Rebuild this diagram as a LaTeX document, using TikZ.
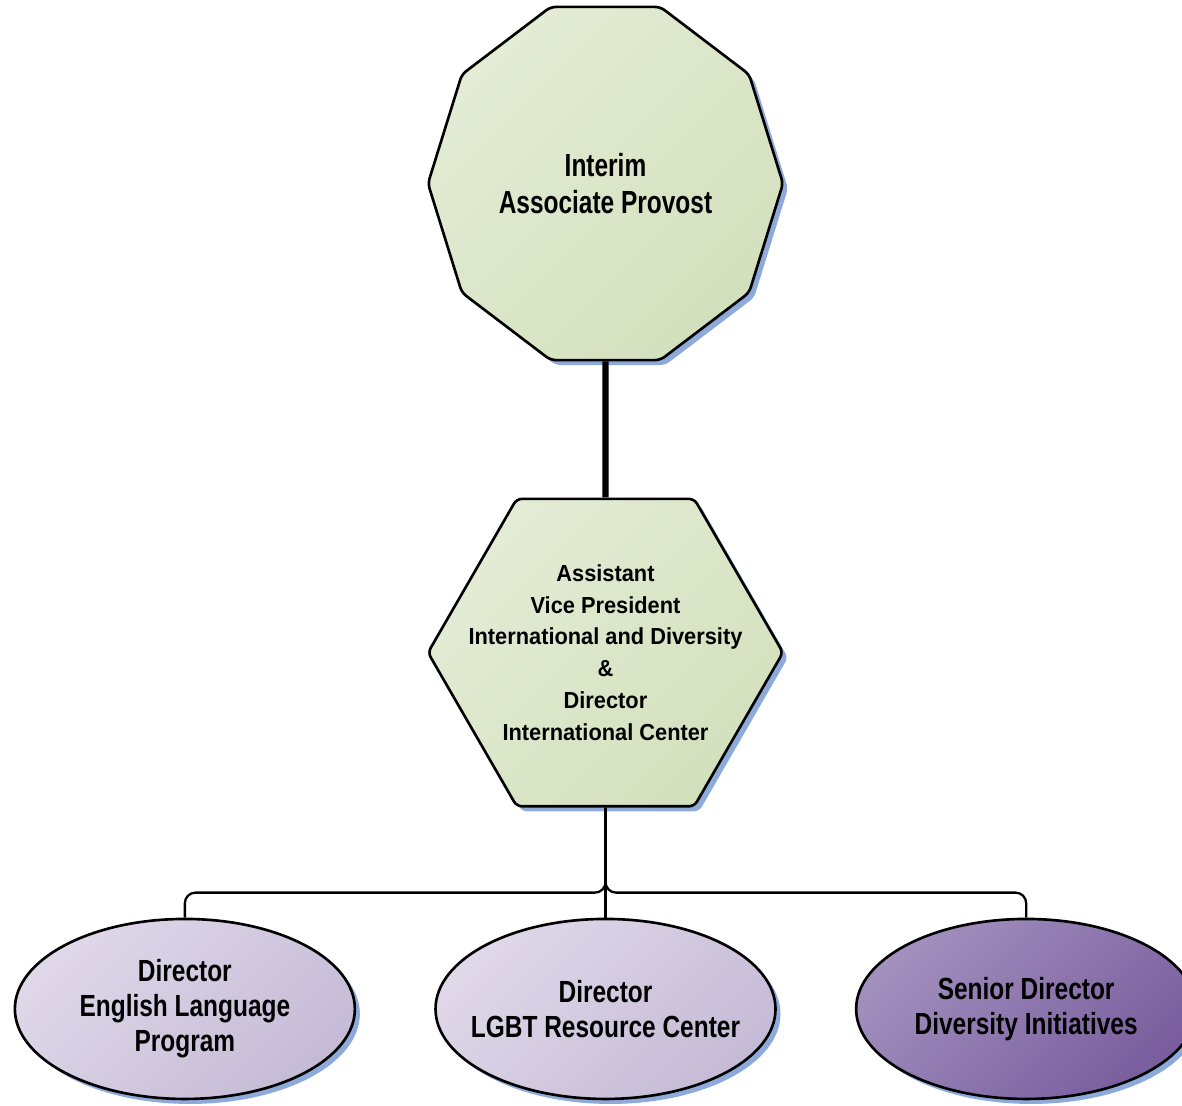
\documentclass[tikz,border=0pt]{standalone}
\usepackage{fontspec}
\newfontfamily\orgfont{Liberation Sans}[FakeStretch=0.8]
\newfontfamily\hexfont{Liberation Sans}[FakeStretch=0.94]
\usepackage{tikz}
\definecolor{ga}{RGB}{228, 236, 214}
\definecolor{gb}{RGB}{211, 224, 188}
\definecolor{la}{RGB}{223, 216, 233}
\definecolor{lb}{RGB}{197, 187, 214}
\definecolor{pa}{RGB}{162, 144, 190}
\definecolor{pb}{RGB}{121, 93, 157}
\definecolor{sh}{RGB}{142, 170, 219}
\usetikzlibrary{positioning,shapes.geometric,shadows}

\begin{document}
\begin{tikzpicture}[
  orgbox/.style={draw, line width=1.5pt, inner sep=0, align=center,
    drop shadow={fill=sh, opacity=1, shadow xshift=0.1cm, shadow yshift=-0.1cm}},
  greenfill/.style={top color=ga, bottom color=gb, shading angle=45},
  bigtext/.style={font=\orgfont\bfseries\fontsize{17.4}{19.8}\selectfont},
  hextext/.style={font=\hexfont\bfseries\fontsize{13.2}{18.1}\selectfont},
  ovalbox/.style={orgbox, bigtext, ellipse, inner xsep=-0.8cm, minimum width=6.8cm, minimum height=3.6cm},
  topline/.style={line width=3.5pt},
  busline/.style={line width=1.3pt, rounded corners=6pt}
]
\clip (-12.11,3.67) rectangle (11.53,-18.43);

\node[orgbox, greenfill, bigtext, regular polygon, regular polygon sides=10, minimum size=7.1cm, rounded corners=3pt, yscale=1.046, transform shape] (P) at (0,0) {Interim\\Associate Provost};
\node[below =2.72cm of P, orgbox, greenfill, hextext, regular polygon, regular polygon sides=6, inner sep=-1.4cm, minimum size=7.1cm, rounded corners=3pt] (V) {Assistant\\Vice President\\International and Diversity\\\&\\Director\\International Center};
\node[below =2.2cm of V, ovalbox, top color=la, bottom color=lb, shading angle=45] (L) {Director\\LGBT Resource Center};
\node[left  =1.56cm of L, ovalbox, top color=la, bottom color=lb, shading angle=45] (E) {Director\\English Language\\Program};
\node[right =1.56cm of L, ovalbox, top color=pa, bottom color=pb, shading angle=45] (S) {Senior Director\\Diversity Initiatives};
\coordinate[above =0.5cm of L.north] (bus);

\draw[topline] (P) -- (V);
\draw[busline] (V.south) |- (bus -| E.north) -- (E.north);
\draw[busline] (V.south) -- (L.north);
\draw[busline] (V.south) |- (bus -| S.north) -- (S.north);

\end{tikzpicture}
\end{document}
